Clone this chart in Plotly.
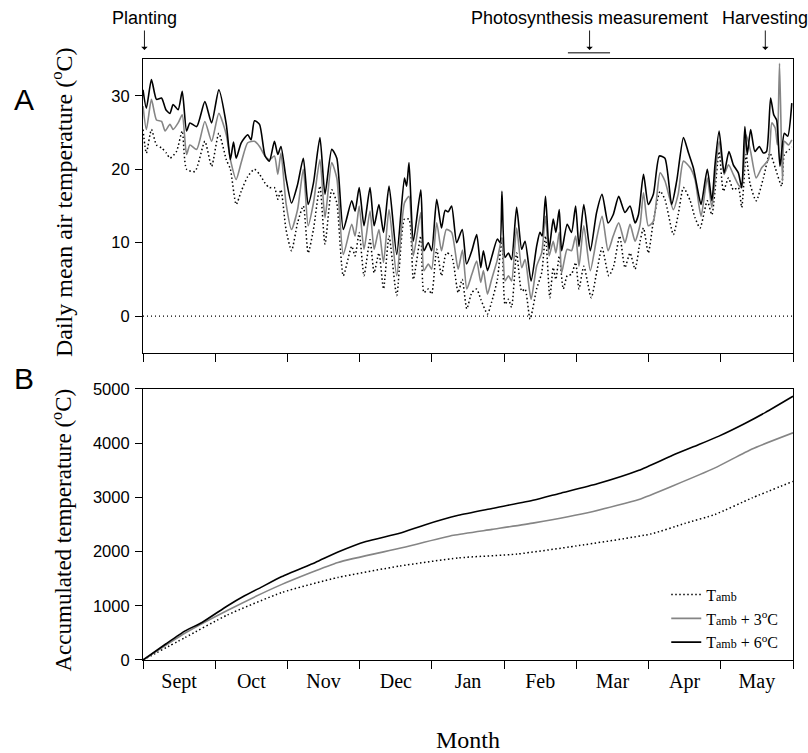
import plotly.graph_objects as go

# ---------------- Panel A: daily mean air temperature ----------------
days_p6 = [0, 1.4, 3.5, 5.6, 7.7, 9.5, 11.2, 12.5, 14.6, 16.3, 18.1, 19.5, 22.3, 25.7, 28.5, 31.5, 34.6, 36.3,
           37.6, 38.7, 40.8, 43.5, 44.9, 46.3, 48.4, 50.7, 52.5, 54.6, 56, 57.3, 59.4, 61.7, 64.2, 66.6, 68.6,
           70.8, 73.5, 75.6, 78.4, 80.5, 83.2, 86.7, 88.1, 89.8, 91.8, 94.3, 96, 98, 99.9, 102.2, 105.4, 108.6,
           109.5, 110.5, 112.3, 115.4, 116.7, 118.5, 119.9, 122, 124, 125.5, 126.8, 128.2, 130.3, 132.6, 134.4,
           136.6, 138.6, 140.3, 141.4, 143.1, 144.8, 147.2, 148.3, 149.1, 150.4, 151.8, 153.1, 155.2, 157.3,
           158.7, 161.2, 163.5, 164.9, 165.8, 167.2, 168.7, 170.4, 171.5, 172.9, 173.9, 176.2, 178, 179.7, 181.1,
           183.1, 185.8, 188.4, 190.7, 193.2, 195.3, 197.6, 200.2, 202.3, 204.4, 205.8, 207.9, 209.9, 212,
           214.5, 216.8, 219.6, 221.7, 224.5, 226.6, 228.6, 230, 231.8, 234.4, 236.3, 237.6, 239.3, 241.4, 243.4,
           245.2, 247.3, 248.7, 250, 251, 252.4, 254.2, 256, 257.7, 259, 260.7, 262, 263.2, 264.6, 266.4, 267.8, 269.5]
temp_p6 = [30.8, 28.3, 32.2, 29.5, 29.7, 28.1, 27.6, 28.8, 28.1, 30.6, 25.2, 26.3, 25.8, 29.2, 26.3, 30.8, 26.1, 21.3,
           23.7, 21.5, 23.6, 24.7, 24.0, 26.6, 26.1, 21.8, 21.1, 23.8, 22.0, 23.1, 18.8, 15.4, 17.9, 21.5, 15.2,
           18.1, 24.3, 16.6, 22.7, 21.5, 11.8, 15.7, 14.3, 17.5, 12.3, 17.5, 12.3, 15.2, 11.4, 17.7, 8.4, 18.8,
           17.7, 20.9, 10.2, 17.2, 8.9, 10.0, 8.9, 15.9, 12.0, 14.4, 14.2, 15.0, 10.0, 11.8, 7.1,
           8.9, 11.1, 6.6, 8.9, 6.2, 8.0, 10.5, 10.0, 17.0, 8.0, 8.6, 7.7, 14.8, 9.1,
           10.2, 4.8, 9.5, 11.4, 10.9, 16.3, 9.1, 13.2, 11.4, 14.5, 8.9, 12.5, 11.4, 15.0, 9.5,
           15.2, 8.9, 14.1, 16.6, 12.7, 13.8, 16.3, 14.1, 15.0, 12.7, 13.8, 19.3, 15.2, 16.6,
           21.8, 21.5, 15.2, 18.4, 24.3, 22.2, 20.2, 17.9, 15.2, 20.0, 15.7, 20.6, 25.2, 19.5, 22.4,
           20.6, 19.5, 17.5, 25.8, 22.0, 25.4, 22.4, 23.1, 22.2, 22.4, 29.7, 27.4, 26.7, 20.4, 24.9, 24.5, 29.0]

days_p3 = [0, 1.4, 3.5, 5.6, 7.7, 9.2, 11.2, 12.5, 14.6, 16.3, 18.1, 19.5, 22.3, 25.7, 28.5, 31.5, 34.6, 36.3,
           38.7, 40.8, 43.5, 46.3, 48.4, 50.7, 52.5, 54.6, 56, 57.3, 59.4, 61.7, 64.2, 66.6, 68.6, 70.8, 73.5,
           75.6, 78.4, 80.5, 83.2, 86.7, 88.1, 89.8, 91.8, 94.3, 96, 98, 99.9, 102.2, 105.4, 108.6, 110.5, 112.3,
           115.4, 116.7, 118.5, 119.9, 122, 124, 126, 128.2, 130.9, 132.7, 134.5, 136.6, 138.6, 140.3, 141.4,
           143.1, 144.8, 147.2, 149.1, 150.4, 151.8, 153.1, 155.2, 157.3, 158.7, 161.2, 163.5, 165.6, 167.2,
           168.7, 170.4, 171.5, 172.9, 173.9, 176.2, 178, 179.7, 181.1, 183.1, 185.8, 188.4, 190.7, 193.2,
           195.3, 197.6, 200.2, 202.3, 204.4, 206.5, 207.9, 209.9, 212, 214.8, 216.8, 220.3, 222.3, 224.5,
           227.3, 229.3, 231.8, 234.4, 236.3, 239.3, 241.4, 243.2, 245.2, 247.3, 248.7, 250.5, 252.4, 254.7,
           257, 259.8, 261.2, 262.6, 263.5, 264.4, 265.6, 266.4, 268.1, 269.5]
temp_p3 = [28.6, 25.4, 29.5, 26.7, 26.5, 25.2, 26.1, 25.4, 26.3, 27.4, 22.0, 23.3, 22.7, 26.5, 23.8, 27.6, 24.7, 21.3,
           18.6, 20.9, 23.6, 23.8, 23.1, 21.8, 21.3, 21.8, 19.3, 22.2, 15.4, 11.8, 14.5, 20.0, 12.3, 15.4, 21.3,
           13.4, 20.9, 18.8, 8.4, 12.5, 10.9, 15.0, 9.1, 14.3, 9.1, 11.8, 7.3, 14.5, 5.5, 15.4, 16.3, 8.2,
           14.1, 6.2, 7.1, 6.4, 12.7, 8.9, 11.8, 11.4, 6.4, 9.0, 3.7, 5.7, 7.5, 4.6, 6.2,
           3.0, 5.0, 7.7, 10.7, 4.8, 5.5, 4.8, 12.0, 6.6, 7.7, 2.3, 6.8, 8.6, 13.6,
           8.2, 10.2, 8.6, 11.4, 5.9, 9.1, 8.9, 10.9, 6.8, 12.3, 6.2, 10.5, 13.6, 8.9,
           10.9, 12.7, 10.0, 12.5, 10.2, 12.5, 16.8, 12.3, 12.9, 19.5, 18.4, 14.5, 16.6, 21.1,
           20.2, 18.6, 13.6, 18.8, 14.8, 23.8, 19.3, 20.6, 19.3, 17.9, 17.5, 24.7, 22.4, 18.8,
           20.2, 21.3, 26.3, 25.6, 23.3, 34.4, 18.4, 23.8, 23.3, 24.0]

days_amb = [0, 1.4, 3.5, 5.6, 7.7, 9.7, 11.2, 13.9, 16.3, 18.1, 21.6, 25.7, 28.5, 31.5, 34.6, 36.3, 38.7, 40.8,
            43.5, 46.3, 48.4, 50.7, 52.5, 54.6, 56, 57.3, 59.4, 61.7, 64.2, 66.6, 68.6, 70.8, 73.5, 75.6, 78.4,
            80.5, 83.2, 86.7, 88.1, 89.8, 91.8, 94.3, 96, 98, 99.9, 102.2, 105.4, 108.6, 110.5, 112.3, 115.4,
            116.7, 118.5, 119.9, 122, 124, 126, 128.2, 130.9, 132.6, 134.5, 136.6, 138.6, 140.3, 143.1, 144.8,
            147.2, 149.1, 150.4, 151.8, 153.1, 155.2, 157.3, 158.7, 160.8, 163.5, 165.6, 167.2, 169, 170.4,
            171.5, 172.9, 174.6, 176.2, 178, 179.7, 181.1, 183.1, 186.2, 188.4, 190.7, 193.5, 195.5, 198,
            200.2, 202.3, 204.4, 206.5, 207.9, 209.9, 212, 214.8, 216.8, 220.3, 222.3, 224.5, 227.3, 229.3,
            231.4, 234.4, 236.3, 239.3, 241.1, 243.2, 245.2, 247.3, 248.7, 250.5, 252.1, 254.7, 257.7, 260.4,
            262.6, 265.3, 266.4, 268.5, 269.5]
temp_amb = [25.4, 22.2, 25.4, 23.3, 22.9, 22.2, 21.5, 22.4, 25.2, 20.0, 19.7, 23.8, 20.4, 24.9, 21.3, 20.0, 15.2, 17.0,
            19.0, 20.0, 19.3, 18.1, 17.5, 17.5, 15.9, 17.2, 11.8, 8.9, 12.7, 15.0, 8.6, 11.8, 17.7, 9.8, 17.2,
            15.4, 5.5, 9.5, 8.2, 11.4, 5.5, 10.4, 5.9, 8.6, 3.7, 10.9, 2.8, 13.2, 13.2, 5.0, 10.9,
            3.2, 3.7, 3.0, 9.1, 5.5, 8.6, 8.2, 3.2, 5.0, 1.0, 3.2, 3.7, 2.3, 0.3, 1.9,
            5.0, 10.5, 1.6, 2.3, 1.2, 8.6, 3.4, 3.7, -0.4, 3.7, 5.9, 10.9, 2.5, 6.6,
            5.0, 8.2, 3.7, 5.5, 5.7, 7.3, 3.7, 6.8, 2.5, 5.9, 9.3, 5.5, 6.8, 10.9,
            6.6, 8.6, 6.4, 10.2, 12.0, 8.6, 12.9, 17.0, 15.9, 11.1, 13.8, 17.5, 15.7, 13.4,
            12.0, 15.7, 13.8, 22.4, 17.0, 18.8, 17.2, 17.5, 14.8, 22.0, 18.1, 15.7, 18.8, 22.2,
            20.2, 17.7, 22.0, 22.7, 23.0]

# ---------------- Panel B: accumulated temperature ----------------
acc_days_p6 = [0, 9.6, 17.5, 24.5, 35, 42, 49, 57.7, 71.6, 81, 92.6, 106.6, 117, 131, 145, 162.5, 173, 188.7,
               206, 220, 230.7, 239, 250, 258.6, 270]
acc_p6 = [0, 300, 537, 692, 997, 1180, 1340, 1539, 1800, 1993, 2187, 2337, 2492, 2669, 2796, 2951, 3073, 3250,
          3499, 3776, 3970, 4125, 4363, 4568, 4865]
acc_days_p3 = [0, 17.5, 35, 57.7, 81, 106.6, 129, 145, 162.5, 187, 206, 220, 237.6, 253, 270]
acc_p3 = [0, 498, 914, 1395, 1800, 2060, 2300, 2409, 2530, 2741, 2962, 3211, 3544, 3893, 4190]
acc_days_amb = [0, 17.5, 35, 57.7, 81, 106.6, 131, 155.5, 180, 211, 225, 237.6, 253, 270]
acc_amb = [0, 415, 830, 1246, 1523, 1733, 1883, 1955, 2104, 2325, 2519, 2685, 2990, 3295]

# ---------------- Axis / labels ----------------
month_names = ["Sept", "Oct", "Nov", "Dec", "Jan", "Feb", "Mar", "Apr", "May"]
month_mid = [15, 45, 75, 105, 135, 165, 195, 225, 255]
month_bounds = [0, 30, 60, 90, 120, 150, 180, 210, 240, 270]
yticksA = [0, 10, 20, 30]
yticksB = [0, 1000, 2000, 3000, 4000, 5000]

events = ["Planting", "Photosynthesis measurement", "Harvesting"]
event_days = [0.6, 185.5, 258.5]
measure_span = [176.5, 194]

AMB = "T<span style='font-size:12px'>amb</span>"
series_names = [AMB, AMB + " + 3<sup>o</sup>C", AMB + " + 6<sup>o</sup>C"]

SANS = "Liberation Sans, Arial, sans-serif"
SERIF = "Liberation Serif, Times New Roman, serif"
DOTS = "1.5px,2.5px"

fig = go.Figure()

# Panel A traces
fig.add_trace(go.Scatter(x=days_amb, y=temp_amb, mode="lines", xaxis="x", yaxis="y", showlegend=False,
                         line=dict(color="black", width=1.5, dash=DOTS, shape="spline", smoothing=0.6)))
fig.add_trace(go.Scatter(x=days_p3, y=temp_p3, mode="lines", xaxis="x", yaxis="y", showlegend=False,
                         line=dict(color="#858585", width=1.6, shape="spline", smoothing=0.6)))
fig.add_trace(go.Scatter(x=days_p6, y=temp_p6, mode="lines", xaxis="x", yaxis="y", showlegend=False,
                         line=dict(color="black", width=1.6, shape="spline", smoothing=0.6)))

# Panel B traces
fig.add_trace(go.Scatter(x=acc_days_amb, y=acc_amb, mode="lines", xaxis="x2", yaxis="y2", name=series_names[0],
                         line=dict(color="black", width=1.5, dash=DOTS, shape="spline", smoothing=0.5)))
fig.add_trace(go.Scatter(x=acc_days_p3, y=acc_p3, mode="lines", xaxis="x2", yaxis="y2", name=series_names[1],
                         line=dict(color="#858585", width=1.6, shape="spline", smoothing=0.5)))
fig.add_trace(go.Scatter(x=acc_days_p6, y=acc_p6, mode="lines", xaxis="x2", yaxis="y2", name=series_names[2],
                         line=dict(color="black", width=1.6, shape="spline", smoothing=0.5)))

axis_common = dict(showline=True, linecolor="black", linewidth=1.2, mirror=True, showgrid=False,
                   zeroline=False, ticks="outside", tickcolor="black", tickwidth=1.2)

fig.update_layout(
    width=808, height=753,
    margin=dict(l=143, r=15, t=59, b=93, autoexpand=False),
    paper_bgcolor="white", plot_bgcolor="white",
    xaxis=dict(axis_common, domain=[0, 1], range=[0, 270], tickvals=month_bounds, ticklen=8,
               showticklabels=False, anchor="y"),
    yaxis=dict(axis_common, domain=[0.511, 1], range=[-5, 35], tickvals=yticksA, ticklen=7,
               ticklabelstandoff=2, tickfont=dict(family=SANS, size=16.5, color="black"), anchor="x"),
    xaxis2=dict(axis_common, domain=[0, 1], range=[0, 270], tickvals=month_mid, ticktext=month_names,
                ticks="outside", ticklen=3, tickcolor="rgba(0,0,0,0)",
                tickfont=dict(family=SERIF, size=20, color="black"), anchor="y2",
                minor=dict(tickvals=month_bounds, ticks="outside", ticklen=8, tickcolor="black", tickwidth=1.2),
                title=dict(text="Month", font=dict(family=SERIF, size=24, color="black"), standoff=40)),
    yaxis2=dict(axis_common, domain=[0, 0.451], range=[0, 5000], tickvals=yticksB, ticklen=7,
                ticklabelstandoff=2, tickfont=dict(family=SANS, size=16.5, color="black"), anchor="x2"),
    legend=dict(x=0.805, y=0.137, xanchor="left", yanchor="top", bgcolor="rgba(0,0,0,0)",
                font=dict(family=SERIF, size=16, color="black"), tracegroupgap=0),
    shapes=[
        dict(type="line", xref="x", yref="y", x0=month_bounds[0], x1=month_bounds[-1], y0=0, y1=0,
             line=dict(color="black", width=1.2, dash="1px,3px")),
        dict(type="line", xref="x", yref="paper", x0=measure_span[0], x1=measure_span[1], y0=1.0105, y1=1.0105,
             line=dict(color="#555555", width=1.4)),
    ],
)

annotations = []
for name, d in zip(events, event_days):
    annotations.append(dict(x=d, y=1.015, xref="x", yref="paper", text=name, showarrow=True,
                            ax=0, ay=-32, arrowhead=1, arrowsize=1.2, arrowwidth=0.9,
                            arrowcolor="black", standoff=0, startstandoff=1,
                            font=dict(family=SANS, size=18, color="black")))

annotations += [
    dict(x=-0.1246, y=0.762, xref="paper", yref="paper",
         text="Daily mean air temperature (<sup>o</sup>C)",
         textangle=-90, showarrow=False, xanchor="center", yanchor="middle",
         font=dict(family=SERIF, size=24, color="black")),
    dict(x=-0.1246, y=0.451 / 2 - 0.01, xref="paper", yref="paper",
         text="Accumulated temperature (<sup>o</sup>C)",
         textangle=-90, showarrow=False, xanchor="center", yanchor="middle",
         font=dict(family=SERIF, size=23, color="black")),
    dict(x=-0.2015, y=0.932, xref="paper", yref="paper", text="A", showarrow=False, xanchor="left",
         yanchor="middle", font=dict(family=SANS, size=30, color="black")),
    dict(x=-0.2015, y=0.469, xref="paper", yref="paper", text="B", showarrow=False, xanchor="left",
         yanchor="middle", font=dict(family=SANS, size=30, color="black")),
]
fig.update_layout(annotations=annotations)

fig.write_html("out.html")
